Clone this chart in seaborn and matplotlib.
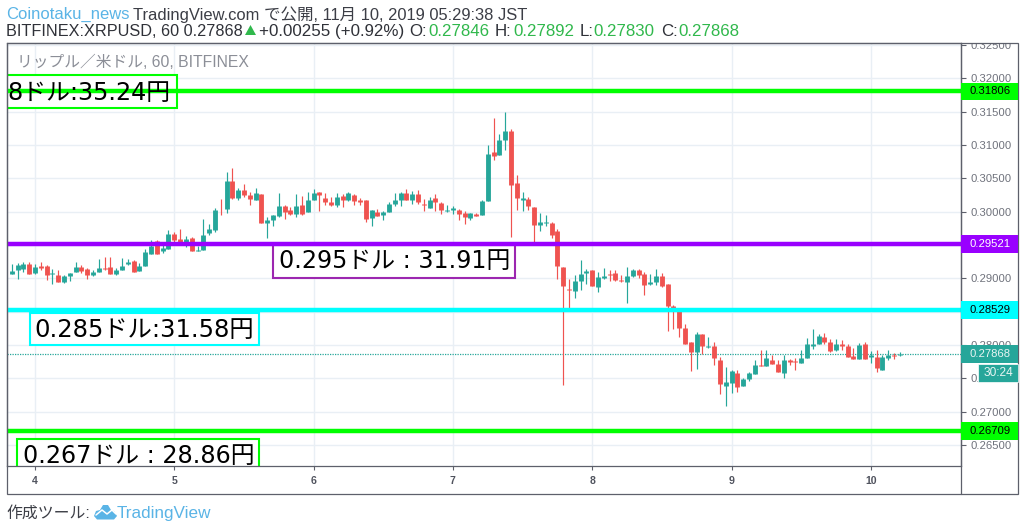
import numpy as np
import pandas as pd
import matplotlib
matplotlib.use("Agg")
import matplotlib.pyplot as plt
from matplotlib.lines import Line2D
from matplotlib.patches import Rectangle, Polygon
from matplotlib.transforms import Bbox, TransformedBbox
import seaborn as sns

# =========================
# DATA (hourly XRPUSD, in 0.00001 dollars)
# =========================

opens = [
    29060, 29120, 29140, 29210, 29085, 29185, 29185, 29070, 29055, 28940,
    29035, 29095, 29170, 29135, 29055, 29090, 29155, 29170, 29060, 29120,
    29210, 29265, 29105, 29185, 29370, 29560, 29410, 29445, 29660, 29595,
    29495, 29610, 29410, 29420, 29680, 29720, 30045, 30035, 30460, 30210,
    30330, 30250, 30180, 30270, 29830, 29870, 29930, 30080, 30030, 29960,
    30095, 29990, 30180, 30300, 30210, 30140, 30095, 30235, 30170, 30245,
    30170, 30170, 29910, 30000, 29945, 29990, 30110, 30170, 30280, 30180,
    30270, 30120, 30060, 30210, 30135, 30005, 30020, 30030, 29985, 29900,
    29970, 29945, 30155, 30890, 30850, 31070, 31215, 30430, 30180, 30195,
    30070, 29795, 29825, 29825, 29705, 29170, 28845, 28810, 28955, 29075,
    29130, 28870, 29000, 29060, 29080, 28980, 28940, 29030, 29125, 29070,
    28910, 28940, 29035, 28920, 28580, 28530, 28260, 28040, 27890, 28160,
    27970, 27980, 27780, 27390, 27430, 27585, 27385, 27485, 27565, 27705,
    27685, 27780, 27720, 27580, 27780, 27755, 27730, 27800, 27980, 28020,
    28120, 28045, 27920, 28020, 27985, 27830, 27795, 28020, 27820, 27825,
    27620, 27805, 27845, 27846,
]
highs = [
    29210, 29230, 29240, 29245, 29210, 29245, 29195, 29145, 29130, 29055,
    29085, 29245, 29205, 29155, 29130, 29295, 29320, 29320, 29155, 29310,
    29295, 29275, 29230, 29445, 29570, 29580, 29495, 29720, 29695, 29735,
    29630, 29620, 29485, 29895, 29820, 30060, 30195, 30595, 30655, 30360,
    30420, 30295, 30360, 30270, 29920, 29945, 30285, 30095, 30070, 30270,
    30235, 30295, 30345, 30300, 30280, 30220, 30280, 30270, 30295, 30270,
    30205, 30170, 30030, 30045, 30010, 30145, 30280, 30295, 30345, 30310,
    30320, 30195, 30220, 30270, 30145, 30105, 30090, 30045, 30010, 29985,
    29985, 30180, 30995, 31410, 31170, 31495, 31245, 30545, 30295, 30220,
    30070, 29985, 29945, 29845, 29745, 29170, 28995, 29045, 29270, 29135,
    29130, 29095, 29160, 29130, 29130, 29045, 29170, 29145, 29145, 29095,
    29070, 29145, 29085, 28920, 28595, 28530, 28320, 28040, 28195, 28170,
    28120, 28045, 27820, 27670, 27620, 27630, 27510, 27595, 27780, 27920,
    27930, 27845, 27770, 27845, 27795, 27805, 27930, 28110, 28245, 28160,
    28180, 28095, 28095, 28070, 28020, 27955, 28035, 28045, 27910, 27920,
    27845, 27930, 27880, 27892,
]
lows = [
    29060, 28985, 29095, 29060, 29070, 29130, 28970, 28920, 28940, 28930,
    28960, 29095, 29085, 28995, 29040, 29090, 29120, 29060, 29055, 29120,
    29205, 29100, 29105, 29185, 29370, 29370, 29385, 29445, 29510, 29495,
    29470, 29405, 29405, 29420, 29645, 29695, 29945, 29985, 30195, 30170,
    30220, 30095, 30180, 29830, 29605, 29780, 29920, 29895, 29945, 29920,
    29945, 29990, 30170, 30005, 30095, 30085, 30070, 30070, 30160, 30095,
    30095, 29845, 29780, 29930, 29870, 29990, 30090, 30090, 30180, 30120,
    30120, 30005, 30060, 30005, 29970, 29990, 29960, 29880, 29810, 29870,
    29935, 29945, 30155, 30770, 30845, 30920, 29620, 30020, 30005, 30020,
    29520, 29710, 29780, 29605, 28995, 27395, 28530, 28705, 28820, 28920,
    28885, 28795, 28995, 28955, 28960, 28945, 28630, 29020, 29010, 28745,
    28905, 28895, 28870, 28210, 28245, 28120, 28010, 27610, 27635, 27860,
    27960, 27695, 27260, 27090, 27280, 27295, 27385, 27460, 27560, 27685,
    27685, 27710, 27590, 27505, 27695, 27620, 27730, 27800, 27945, 28020,
    28020, 27895, 27910, 27920, 27815, 27785, 27795, 27785, 27725, 27590,
    27620, 27770, 27795, 27830,
]
closes = [
    29110, 29200, 29210, 29060, 29170, 29160, 29045, 29085, 28940, 29040,
    29085, 29170, 29110, 29045, 29095, 29155, 29140, 29070, 29120, 29180,
    29250, 29100, 29190, 29395, 29480, 29370, 29455, 29660, 29570, 29520,
    29595, 29405, 29420, 29645, 29735, 30020, 30035, 30460, 30210, 30330,
    30245, 30195, 30280, 29830, 29870, 29945, 30080, 29990, 29960, 30080,
    29960, 30170, 30285, 30245, 30145, 30095, 30220, 30180, 30285, 30160,
    30140, 29895, 30020, 29930, 29990, 30120, 30180, 30280, 30180, 30270,
    30140, 30100, 30180, 30140, 30020, 30030, 30060, 29960, 29915, 29985,
    29935, 30165, 30870, 30830, 31080, 31215, 30405, 30200, 30210, 30080,
    29795, 29840, 29840, 29650, 29180, 28885, 28820, 28960, 29070, 29110,
    28885, 29020, 29035, 29045, 28980, 28955, 29035, 29130, 29055, 28900,
    28945, 29035, 28885, 28585, 28510, 28260, 28020, 27890, 28160, 27980,
    27990, 27805, 27420, 27450, 27605, 27370, 27495, 27585, 27705, 27685,
    27810, 27710, 27590, 27780, 27740, 27740, 27810, 28020, 28020, 28135,
    28040, 27905, 28020, 27985, 27815, 27795, 28005, 27785, 27850, 27650,
    27820, 27845, 27830, 27868,
]

day_ticks = [4, 5, 6, 7, 8, 9, 10]
price_ticks = [0.265, 0.27, 0.275, 0.28, 0.285, 0.29, 0.295, 0.30, 0.305, 0.31, 0.315, 0.32, 0.325]
# these two sit fully behind the level labels
hidden_ticks = [0.285, 0.295]

level_prices = [0.31806, 0.29521, 0.28529, 0.26709]
level_colors = ["#00ff00", "#9900ff", "#00ffff", "#00ff00"]
level_text_colors = ["#000000", "#ffffff", "#000000", "#000000"]
last_price = 0.27868

UP = "#26a69a"
DOWN = "#ef5350"
FRAME = "#5d606b"
W, H = 1024, 530
AX_L, AX_R, AX_T, AX_B = 6.5, 961, 43, 466

SANS = ["Liberation Sans", "Noto Sans CJK JP", "DejaVu Sans"]
BOX_FONT = ["DejaVu Sans", "Noto Sans CJK JP"]

sns.set_theme(style="white")
plt.rcParams["font.family"] = SANS

# =========================
# TABLES FOR SEABORN
# =========================

df = pd.DataFrame({
    "open": np.array(opens) / 1e5,
    "high": np.array(highs) / 1e5,
    "low": np.array(lows) / 1e5,
    "close": np.array(closes) / 1e5,
})
df["candle"] = np.arange(len(df))
df["day"] = 4 + (df["candle"] - 4) / 24
df["side"] = np.where(df["close"] >= df["open"], "up", "down")

wicks = df.melt(id_vars=["candle", "day", "side"], value_vars=["high", "low"], value_name="price")
bodies = df.melt(id_vars=["candle", "day", "side"], value_vars=["open", "close"], value_name="price")

# =========================
# FIGURE
# =========================

def fx(px):
    return px / W

def fy(py):
    return 1 - py / H

fig = plt.figure(figsize=(W / 100, H / 100), dpi=100, facecolor="white")
ax = fig.add_axes([fx(AX_L), fy(AX_B), fx(AX_R - AX_L), (AX_B - AX_T) / H])
ax.set_facecolor("white")

palette = {"up": UP, "down": DOWN}
sns.lineplot(data=wicks, x="day", y="price", hue="side", units="candle", estimator=None,
             palette=palette, linewidth=0.85, legend=False, sort=False, ax=ax,
             solid_capstyle="butt", zorder=2.4)
sns.lineplot(data=bodies, x="day", y="price", hue="side", units="candle", estimator=None,
             palette=palette, linewidth=3.5, legend=False, sort=False, ax=ax,
             solid_capstyle="butt", zorder=2.5)

ax.set_xlim(4 - (35 - AX_L) / 139.3, 4 + (AX_R - 35) / 139.3)
ax.set_ylim(0.26187, 0.32532)
ax.set_xlabel("")
ax.set_ylabel("")

ax.set_xticks(day_ticks)
ax.set_xticklabels([str(d) for d in day_ticks])
ax.set_yticks(price_ticks)
ax.set_yticklabels(["" if p in hidden_ticks else f"{p:.5f}" for p in price_ticks])
ax.yaxis.tick_right()
ax.tick_params(axis="y", length=3.5, width=0.8, color=FRAME, labelsize=8.1, labelcolor="#6f727c", pad=3, right=True)
ax.tick_params(axis="x", length=3, width=0.8, color=FRAME, labelsize=7.6, labelcolor="#50535e", pad=4.5, bottom=True)
for label in ax.get_xticklabels():
    label.set_fontweight("bold")
ax.grid(True, color="#e9eff5", linewidth=1.0)
ax.set_axisbelow(True)
for spine in ax.spines.values():
    spine.set_color(FRAME)
    spine.set_linewidth(0.9)

# top tick label is cut by the chart edge
clip = TransformedBbox(Bbox([[0, 0], [1, fy(AX_T)]]), fig.transFigure)
for label in ax.get_yticklabels():
    label.set_clip_box(clip)
    label.set_clip_on(True)

# levels and last price
for price, color in zip(level_prices, level_colors):
    ax.axhline(price, color=color, linewidth=3.2, zorder=3)
ax.axhline(last_price, color=UP, linewidth=0.9, linestyle=(0, (1, 1)), zorder=2.2)

# =========================
# OUTER FRAME
# =========================

fig.add_artist(Rectangle((fx(AX_L), fy(494)), fx(1017.5 - AX_L), (494 - AX_T) / H, fill=False,
                         edgecolor=FRAME, linewidth=0.9, transform=fig.transFigure, zorder=1))
fig.add_artist(Line2D([fx(AX_R), fx(AX_R)], [fy(494), fy(AX_T)], color=FRAME, linewidth=0.9, zorder=1))

# =========================
# PRICE LABELS ON THE AXIS
# =========================

def price_py(price):
    return H - ax.transData.transform((0, price))[1]

def price_box(price, color, text_color, text):
    py = price_py(price)
    fig.add_artist(Rectangle((fx(AX_R), fy(py + 8.8)), fx(1017.5 - AX_R), 17.6 / H, facecolor=color,
                             edgecolor="none", transform=fig.transFigure, zorder=5))
    fig.text(fx(969.5), fy(py), text, color=text_color, fontsize=8.1, va="center", ha="left", zorder=6)

for price, color, tc in zip(level_prices, level_colors, level_text_colors):
    price_box(price, color, tc, f"{price:.5f}")
price_box(last_price, UP, "#e8f5f3", f"{last_price:.5f}")

fig.add_artist(Rectangle((fx(977.5), fy(381.5)), fx(40), 17.5 / H, facecolor=UP, edgecolor="white",
                         linewidth=0.5, transform=fig.transFigure, zorder=7))
fig.text(fx(998), fy(373), "30:24", color="#e8f5f3", fontsize=8.6, va="center", ha="center", zorder=8)

# =========================
# HAND DRAWN NOTES
# =========================

def note(left, right, top, bottom, color, text, text_x, baseline, size=17.2):
    ax.add_patch(Rectangle((fx(left), fy(bottom)), fx(right - left), (bottom - top) / H, facecolor="white",
                           edgecolor=color, linewidth=1.5, transform=fig.transFigure, zorder=1.8))
    ax.text(fx(text_x), fy(baseline), text, color="black", fontsize=size, family=BOX_FONT, va="baseline",
            ha="left", transform=fig.transFigure, clip_on=True, zorder=4)

note(5, 177, 75, 108, "#00ff00", "8ドル:35.24円", 7, 99.5)
note(273, 514.5, 245, 277.5, "#9c27b0", "0.295ドル : 31.91円", 279, 268)
note(30, 259, 312.5, 345, "#00ffff", "0.285ドル:31.58円", 34, 337, size=17.5)
note(17, 259, 439, 480, "#00ff00", "0.267ドル : 28.86円", 23, 463)

# =========================
# HEADER
# =========================

fig.text(fx(6), fy(14.5), "Coinotaku_news", color="#5ab4e6", fontsize=12, va="center")
fig.text(fx(133), fy(14.5), "TradingView.com で公開, 11月 10, 2019 05:29:38 JST", color="#3c3e46", fontsize=11.9, va="center")

HEADER_DARK = "#2f3138"
HEADER_GREEN = "#30b84c"
header_parts = [
    (6, "BITFINEX:XRPUSD, 60 0.27868", HEADER_DARK, 11.7),
    (259, "+0.00255 (+0.92%)", HEADER_DARK, 12.2),
    (409, "O:", HEADER_DARK, 12.2), (428, "0.27846", HEADER_GREEN, 12.2),
    (495, "H:", HEADER_DARK, 12.2), (513, "0.27892", HEADER_GREEN, 12.2),
    (580, "L:", HEADER_DARK, 12.2), (593, "0.27830", HEADER_GREEN, 12.2),
    (661, "C:", HEADER_DARK, 12.2), (678, "0.27868", HEADER_GREEN, 12.2),
]
for px, text, color, size in header_parts:
    fig.text(fx(px), fy(31.5), text, color=color, fontsize=size, va="center")
fig.add_artist(Polygon([[fx(245), fy(35)], [fx(256), fy(35)], [fx(250.5), fy(25)]], closed=True,
                       facecolor=HEADER_GREEN, edgecolor="none", transform=fig.transFigure))

fig.text(fx(17), fy(62), "リップル／米ドル, 60, BITFINEX", color="#8b8e97", fontsize=11.3, va="center", zorder=5)

# =========================
# FOOTER
# =========================

fig.text(fx(6), fy(513), "作成ツール:", color="#3c3e46", fontsize=11.4, va="center")
LOGO = "#5ab4e6"
fig.add_artist(Polygon([[fx(px), fy(py)] for px, py in [
    (94, 516), (96, 511), (100, 510), (103, 505), (108, 505), (111, 510), (114, 511), (117, 516),
    (114, 519.5), (97, 519.5)]], closed=True, facecolor=LOGO, edgecolor="none", transform=fig.transFigure))
fig.add_artist(Line2D([fx(96), fx(102), fx(107), fx(112), fx(116)], [fy(515), fy(510), fy(514), fy(510), fy(514)],
                      color="white", linewidth=1.1, zorder=3))
fig.text(fx(117), fy(513.5), "TradingView", color=LOGO, fontsize=12.3, va="center")

fig.savefig("out.png", dpi=100, facecolor="white")
